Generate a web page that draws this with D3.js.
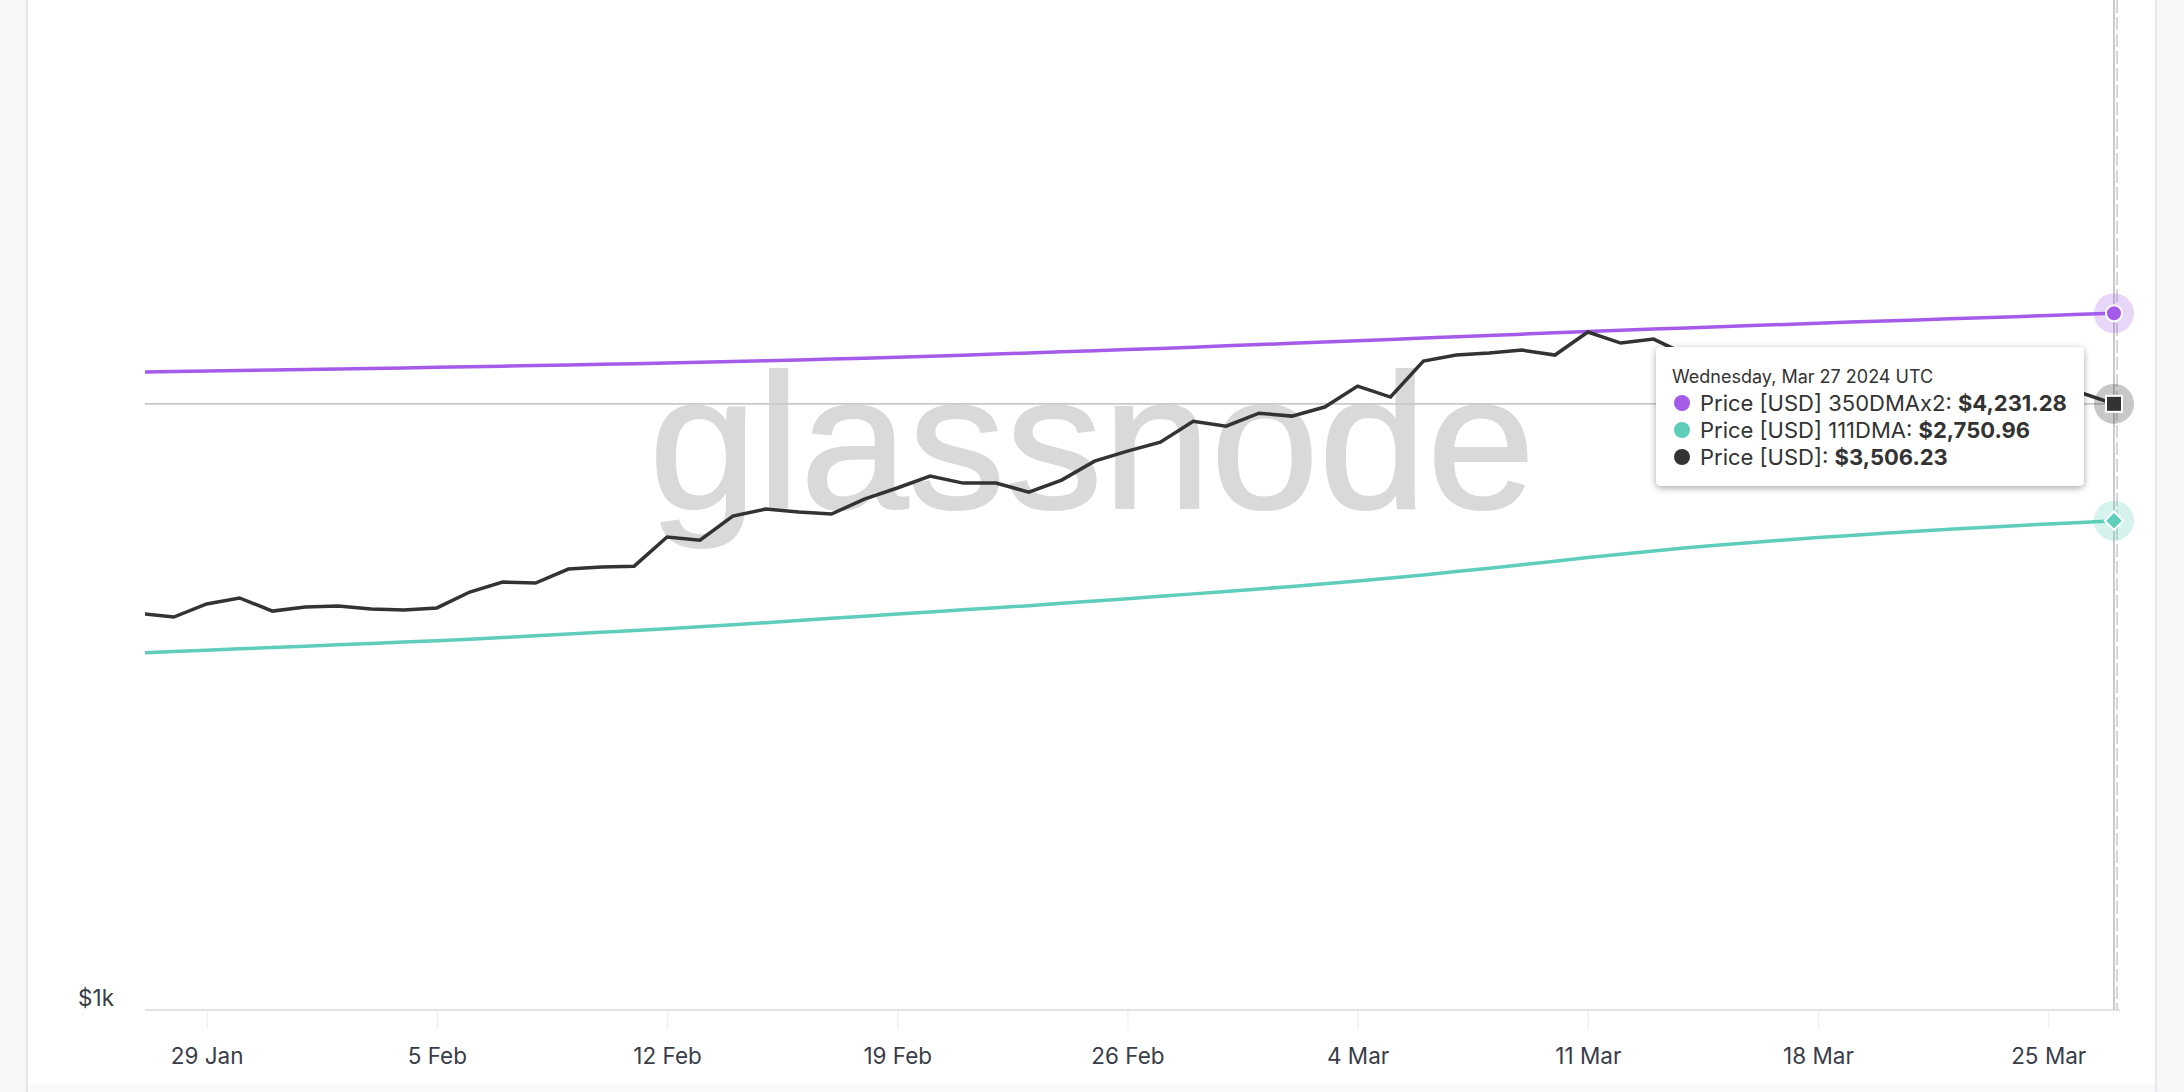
<!DOCTYPE html>
<html>
<head>
<meta charset="utf-8">
<script src="https://cdn.jsdelivr.net/npm/d3@7"></script>
<style>
  html, body { margin: 0; padding: 0; background: #ffffff; }
  svg { display: block; font-family: Inter, "Noto Sans", sans-serif; }
</style>
</head>
<body>
<svg id="chart" width="2184" height="1092"></svg>
<script>
// ---------------- DATA ----------------
const startDate = "2024-01-27"; // one value per UTC day
const price = [
  2268, 2252, 2314, 2343, 2280, 2299, 2304, 2290, 2285, 2295,
  2372, 2422, 2417, 2488, 2498, 2503, 2659, 2642, 2777, 2818,
  2801, 2789, 2877, 2944, 3018, 2974, 2974, 2919, 2993, 3113,
  3178, 3238, 3382, 3347, 3439, 3418, 3483, 3638, 3556, 3832,
  3880, 3896, 3920, 3880, 4070, 3978, 4011, 3881, 3738, 3520,
  3644, 3517, 3158, 3516, 3492, 3336, 3330, 3454, 3590, 3588,
  3506.23
];
const dma350x2 = [
  3745, 3749, 3753, 3757, 3761, 3765, 3769, 3773, 3777, 3782,
  3786, 3791, 3796, 3801, 3806, 3811, 3816, 3822, 3828, 3834,
  3841, 3848, 3855, 3862, 3870, 3879, 3888, 3897, 3906, 3915,
  3924, 3934, 3944, 3955, 3965, 3976, 3986, 3997, 4008, 4019,
  4030, 4041, 4052, 4063, 4074, 4085, 4095, 4105, 4115, 4125,
  4135, 4145, 4155, 4164, 4174, 4183, 4193, 4202, 4212, 4222,
  4231.28
];
const dma111 = [
  2090, 2096, 2102, 2108, 2114, 2120, 2126, 2132, 2138, 2144,
  2151, 2158, 2166, 2174, 2182, 2190, 2198, 2207, 2216, 2226,
  2236, 2246, 2256, 2266, 2276, 2286, 2296, 2306, 2317, 2328,
  2339, 2351, 2363, 2375, 2387, 2400, 2413, 2427, 2442, 2458,
  2475, 2492, 2510, 2529, 2548, 2566, 2583, 2600, 2615, 2629,
  2643, 2656, 2668, 2680, 2691, 2702, 2712, 2722, 2732, 2741,
  2750.96
];
const seriesNames = ["Price [USD] 350DMAx2", "Price [USD] 111DMA", "Price [USD]"];
const xTickLabels = ["29 Jan", "5 Feb", "12 Feb", "19 Feb", "26 Feb", "4 Mar", "11 Mar", "18 Mar", "25 Mar"];
const yTickValues = [1000];
const yTickLabels = ["$1k"];
const tooltipTitle = "Wednesday, Mar 27 2024 UTC";
const watermark = "glassnode";

// ---------------- STYLE ----------------
const C_PURPLE = "#a55be9";
const C_TEAL = "#5ecdb9";
const C_BLACK = "#333333";

const svg = d3.select("#chart");
const W = 2184, H = 1092;

const t0 = d3.utcParse("%Y-%m-%d")(startDate);
const dates = price.map((_, i) => d3.utcDay.offset(t0, i));
const lastDate = dates[dates.length - 1];

const x = d3.scaleUtc()
  .domain([d3.utcHour.offset(t0, 3.5), lastDate])
  .range([145, 2114]);
const y = d3.scaleLog()
  .domain([1000, 8110])
  .range([1008, 0]);

// page frame
svg.append("rect").attr("width", W).attr("height", H).attr("fill", "#ffffff");
svg.append("rect").attr("x", 0).attr("y", 0).attr("width", 26).attr("height", H).attr("fill", "#f6f7f9");
svg.append("rect").attr("x", 26).attr("y", 0).attr("width", 2).attr("height", H).attr("fill", "#e4e6e9");
svg.append("rect").attr("x", 2157).attr("y", 0).attr("width", 27).attr("height", H).attr("fill", "#f6f7f9");
svg.append("rect").attr("x", 2155).attr("y", 0).attr("width", 2).attr("height", H).attr("fill", "#e6e8eb");
svg.append("rect").attr("x", 28).attr("y", 1084).attr("width", 2127).attr("height", 8).attr("fill", "#fafafa");

// watermark
svg.append("text")
  .attr("x", 649).attr("y", 508)
  .attr("textLength", 886).attr("lengthAdjust", "spacingAndGlyphs")
  .attr("font-family", "'Liberation Sans', Arial, sans-serif")
  .attr("font-size", 192)
  .attr("fill", "#d9d9d9")
  .attr("stroke", "#d9d9d9").attr("stroke-width", 2)
  .text(watermark);

// clip
svg.append("defs").append("clipPath").attr("id", "plotclip")
  .append("rect").attr("x", 145).attr("y", 0).attr("width", 1975).attr("height", 1010);

// x axis
const xTicks = d3.utcMonday.every(1).range(d3.utcDay.offset(t0, 1), d3.utcDay.offset(lastDate, 1));
const xAxis = d3.axisBottom(x)
  .tickValues(xTicks)
  .tickSize(19)
  .tickSizeOuter(0)
  .tickFormat((d, i) => xTickLabels[i]);
const gx = svg.append("g").attr("transform", "translate(0,1010)").call(xAxis);
gx.select(".domain").remove();
gx.append("line").attr("x1", 145).attr("x2", 2120).attr("y1", 0).attr("y2", 0)
  .attr("stroke", "#e2e2e2").attr("stroke-width", 2);
gx.selectAll(".tick line").attr("stroke", "#eeeeee").attr("stroke-width", 1.2);
gx.selectAll(".tick text")
  .attr("y", 54).attr("dy", 0)
  .attr("font-family", "Inter, sans-serif")
  .attr("font-size", 22.5)
  .attr("fill", "#383d49");

// y axis
const yAxis = d3.axisLeft(y).tickValues(yTickValues).tickSize(0).tickPadding(31)
  .tickFormat((d, i) => yTickLabels[i]);
const gy = svg.append("g").attr("transform", "translate(145,0)").call(yAxis);
gy.select(".domain").remove();
gy.selectAll(".tick text")
  .attr("dy", "-3px")
  .attr("font-family", "Inter, sans-serif")
  .attr("font-size", 22.5)
  .attr("fill", "#383d49");

// crosshair
const cx = x(lastDate);
svg.append("line").attr("x1", cx + 3).attr("x2", cx + 3).attr("y1", 0).attr("y2", 1010)
  .attr("stroke", "#d6d6d6").attr("stroke-width", 2).attr("stroke-dasharray", "13,4");
svg.append("line").attr("x1", cx).attr("x2", cx).attr("y1", 0).attr("y2", 1010)
  .attr("stroke", "#c9c9c9").attr("stroke-width", 2);
svg.append("line").attr("x1", 145).attr("x2", cx).attr("y1", y(price[price.length - 1])).attr("y2", y(price[price.length - 1]))
  .attr("stroke", "#c9c9c9").attr("stroke-width", 1.6);

// lines
const lineGen = d3.line().x((d, i) => x(dates[i])).y(d => y(d));
const gl = svg.append("g").attr("clip-path", "url(#plotclip)");
gl.append("path").datum(dma111).attr("d", lineGen)
  .attr("fill", "none").attr("stroke", C_TEAL).attr("stroke-width", 3.5);
gl.append("path").datum(dma350x2).attr("d", lineGen)
  .attr("fill", "none").attr("stroke", C_PURPLE).attr("stroke-width", 3.5);
gl.append("path").datum(price).attr("d", lineGen)
  .attr("fill", "none").attr("stroke", C_BLACK).attr("stroke-width", 3.5).attr("stroke-linejoin", "miter");

// markers at hover point
const last = price.length - 1;
const mk = svg.append("g");
mk.append("circle").attr("cx", cx).attr("cy", y(dma350x2[last])).attr("r", 20).attr("fill", C_PURPLE).attr("fill-opacity", 0.25);
mk.append("circle").attr("cx", cx).attr("cy", y(dma350x2[last])).attr("r", 8).attr("fill", C_PURPLE).attr("stroke", "#fff").attr("stroke-width", 2);
mk.append("circle").attr("cx", cx).attr("cy", y(price[last])).attr("r", 20).attr("fill", C_BLACK).attr("fill-opacity", 0.27);
mk.append("rect").attr("x", cx - 8).attr("y", y(price[last]) - 8).attr("width", 16).attr("height", 16)
  .attr("fill", C_BLACK).attr("stroke", "#fff").attr("stroke-width", 2);
mk.append("circle").attr("cx", cx).attr("cy", y(dma111[last])).attr("r", 20).attr("fill", C_TEAL).attr("fill-opacity", 0.26);
mk.append("rect").attr("x", -6.5).attr("y", -6.5).attr("width", 13).attr("height", 13)
  .attr("transform", `translate(${cx},${y(dma111[last])}) rotate(45)`)
  .attr("fill", C_TEAL).attr("stroke", "#fff").attr("stroke-width", 2);

// tooltip
const defs = svg.select("defs");
const f = defs.append("filter").attr("id", "shadow").attr("x", "-10%").attr("y", "-20%").attr("width", "120%").attr("height", "150%");
f.append("feDropShadow").attr("dx", 0).attr("dy", 2).attr("stdDeviation", 3.5).attr("flood-color", "#000").attr("flood-opacity", 0.35);

const tt = svg.append("g").attr("transform", "translate(1656,347)");
tt.append("rect").attr("width", 428).attr("height", 139).attr("rx", 5)
  .attr("fill", "#ffffff").attr("filter", "url(#shadow)");
tt.append("text").attr("x", 16).attr("y", 36)
  .attr("font-family", "Inter, sans-serif").attr("font-size", 18).attr("fill", "#333")
  .text(tooltipTitle);
const ttRows = [
  { name: seriesNames[0], value: dma350x2[last], color: C_PURPLE },
  { name: seriesNames[1], value: dma111[last], color: C_TEAL },
  { name: seriesNames[2], value: price[last], color: C_BLACK }
];
const fmt = d3.format("$,.2f");
ttRows.forEach((r, i) => {
  const cy = 56 + i * 27;
  tt.append("circle").attr("cx", 26).attr("cy", cy).attr("r", 8).attr("fill", r.color);
  const t = tt.append("text").attr("x", 44).attr("y", cy + 8)
    .attr("font-family", "Inter, sans-serif").attr("font-size", 22).attr("fill", "#333");
  t.append("tspan").text(r.name + ": ");
  t.append("tspan").attr("font-weight", 700).text(fmt(r.value));
});
</script>
</body>
</html>
